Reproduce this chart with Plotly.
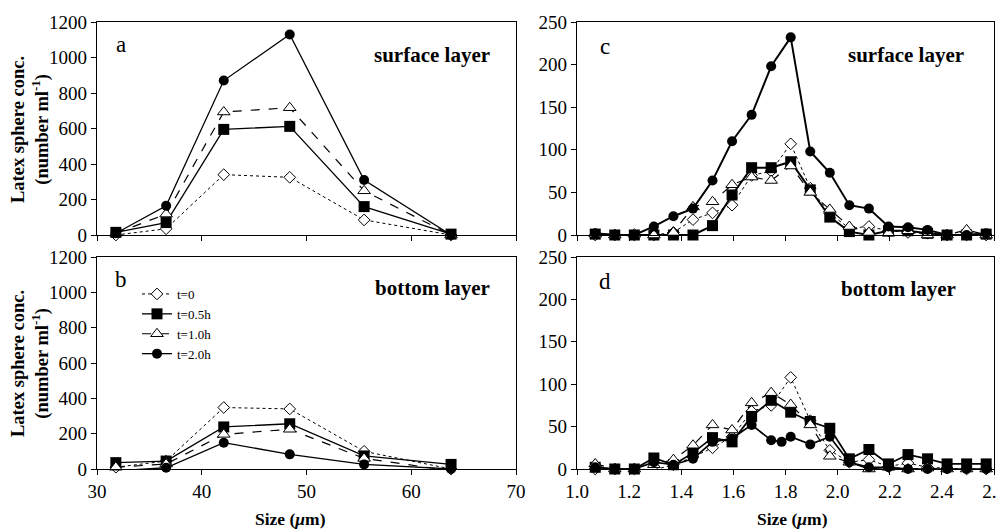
import plotly.graph_objects as go

# ---------------- data ----------------
series_names = ["t=0", "t=0.5h", "t=1.0h", "t=2.0h"]

size_large = [31.8, 36.6, 42.1, 48.4, 55.5, 63.8]
a_t0 = [0, 35, 340, 325, 85, 0]
a_t05 = [15, 70, 595, 612, 160, 5]
a_t10 = [10, 118, 693, 717, 249, 0]
a_t20 = [10, 165, 870, 1130, 310, 0]

b_t0 = [10, 45, 348, 340, 100, 0]
b_t05 = [36, 45, 238, 256, 74, 26]
b_t10 = [10, 28, 196, 225, 60, -10]
b_t20 = [-10, 7, 149, 83, 26, 0]

size_small = [1.07, 1.145, 1.22, 1.295, 1.37, 1.445, 1.52, 1.595, 1.67, 1.745, 1.82,
              1.895, 1.97, 2.045, 2.12, 2.195, 2.27, 2.345, 2.42, 2.495, 2.57]
c_t0 = [0, 0, 0, 0, 3, 18, 26, 35, 70, 75, 107, 55, 25, 8, 10, 5, 3, 2, 0, 0, 0]
c_t05 = [1, 0, 0, 0, 0, 0, 11, 47, 79, 79, 86, 53, 21, 4, 0, 5, 5, 2, 0, 0, 1]
c_t10 = [1, 0, 1, 0, 3, 33, 39, 59, 68, 64, 81, 50, 30, 10, 3, 2, 5, 0, 0, 6, 0]
c_t20 = [2, 0, 0, 10, 22, 31, 64, 110, 141, 198, 232, 98, 73, 35, 31, 10, 9, 6, 0, 0, 2]

d_t0 = [0, 0, 0, -1, 5, 14, 25, 38, 68, 75, 108, 57, 22, 8, 11, 3, 7, 2, 1, 0, 0]
d_t05 = [2, 0, 0, 13, 5, 19, 37, 32, 62, 81, 67, 56, 48, 12, 23, 6, 17, 12, 6, 6, 6]
d_t10 = [6, 0, 0, 5, 11, 28, 52, 46, 78, 90, 76, 52, 15, 8, 0, 2, 0, 1, 0, 0, 0]
size_small_d20 = [1.07, 1.145, 1.22, 1.295, 1.37, 1.445, 1.52, 1.595, 1.67, 1.745, 1.785, 1.82,
                  1.895, 1.97, 2.045, 2.12, 2.195, 2.27, 2.345, 2.42, 2.495, 2.57]
d_t20 = [2, 0, 0, 8, 5, 12, 32, 36, 52, 34, 32, 38, 29, 38, 8, 2, 2, 0, 0, 0, 0, 0]

x_ticks_large = [30, 40, 50, 60, 70]
y_ticks_large = [0, 200, 400, 600, 800, 1000, 1200]
x_ticks_small = [1.0, 1.2, 1.4, 1.6, 1.8, 2.0, 2.2, 2.4, 2.6]
y_ticks_small = [0, 50, 100, 150, 200, 250]

# ---------------- styles ----------------
FONT = "Liberation Serif, Times New Roman, serif"
styles = [
    dict(line=dict(color="black", width=1, dash="dot"),
         marker=dict(symbol="diamond", size=9, color="white", line=dict(color="black", width=1))),
    dict(line=dict(color="black", width=1.3),
         marker=dict(symbol="square", size=11, color="black", line=dict(color="black", width=0))),
    dict(line=dict(color="black", width=1.2, dash="dash"),
         marker=dict(symbol="triangle-up", size=11, color="white", line=dict(color="black", width=1))),
    dict(line=dict(color="black", width=1.3),
         marker=dict(symbol="circle", size=10, color="black", line=dict(color="black", width=0))),
]

fig = go.Figure()

panels = [
    ("x", "y", [size_large] * 4, [a_t0, a_t05, a_t10, a_t20], False, 1.0),
    ("x2", "y2", [size_large] * 4, [b_t0, b_t05, b_t10, b_t20], True, 1.0),
    ("x3", "y3", [size_small] * 4, [c_t0, c_t05, c_t10, c_t20], False, 1.5),
    ("x4", "y4", [size_small] * 3 + [size_small_d20], [d_t0, d_t05, d_t10, d_t20], False, 1.3),
]
for xa, ya, xs, ys, show, lw in panels:
    for i in range(4):
        st = styles[i]
        line = dict(st["line"])
        if i in (1, 3):
            line["width"] = line["width"] * lw
        fig.add_trace(go.Scatter(
            x=xs[i], y=ys[i], mode="lines+markers", name=series_names[i],
            xaxis=xa, yaxis=ya, line=line, marker=st["marker"],
            showlegend=show, cliponaxis=False))

OFF = 8
PW, PH = 1004, 529
W, H = PW - OFF, PH - OFF

def fx(p):
    return (p - OFF) / W

def fy(p):
    return 1 - (p - OFF) / H

lx = [fx(97), fx(516)]
rx = [fx(577), fx(994)]
ty = [fy(235), fy(22)]
by = [fy(469), fy(257)]

axis_common = dict(showline=True, linecolor="black", linewidth=1.2, mirror=True,
                   showgrid=False, zeroline=False, ticks="outside", ticklen=5,
                   tickcolor="black", automargin=False, ticklabeloverflow="allow",
                   tickfont=dict(family=FONT, size=19, color="black"))

fig.update_layout(
    width=W, height=H,
    margin=dict(l=0, r=0, t=0, b=0, pad=0, autoexpand=False),
    paper_bgcolor="white", plot_bgcolor="white",
    font=dict(family=FONT, color="black"),
    xaxis=dict(domain=lx, anchor="y", range=[30, 70], tickvals=x_ticks_large,
               showticklabels=False, **axis_common),
    yaxis=dict(domain=ty, anchor="x", range=[0, 1200], tickvals=y_ticks_large, **axis_common),
    xaxis2=dict(domain=lx, anchor="y2", range=[30, 70], tickvals=x_ticks_large, **axis_common),
    yaxis2=dict(domain=by, anchor="x2", range=[0, 1200], tickvals=y_ticks_large, **axis_common),
    xaxis3=dict(domain=rx, anchor="y3", range=[1.0, 2.6], tickvals=x_ticks_small,
                showticklabels=False, **axis_common),
    yaxis3=dict(domain=ty, anchor="x3", range=[0, 250], tickvals=y_ticks_small, **axis_common),
    xaxis4=dict(domain=rx, anchor="y4", range=[1.0, 2.6], tickvals=x_ticks_small,
                tickformat=".1f", **axis_common),
    yaxis4=dict(domain=by, anchor="x4", range=[0, 250], tickvals=y_ticks_small, **axis_common),
    legend=dict(x=fx(137), y=fy(279), xanchor="left", yanchor="top",
                font=dict(family=FONT, size=13, color="black"),
                bgcolor="rgba(0,0,0,0)", tracegroupgap=0, itemwidth=30),
    showlegend=True,
)

ann = []
def add_text(text, x, y, size, bold=False, xanchor="center", angle=0):
    ann.append(dict(text=("<b>%s</b>" % text) if bold else text, x=fx(x), y=fy(y),
                    xref="paper", yref="paper", showarrow=False, xanchor=xanchor,
                    yanchor="middle", textangle=angle,
                    font=dict(family=FONT, size=size, color="black")))

add_text("a", 121, 44, 23)
add_text("b", 121, 279, 23)
add_text("c", 605, 47, 23)
add_text("d", 605, 281, 23)
add_text("surface layer", 492, 55, 21, bold=True, xanchor="right")
add_text("bottom layer", 492, 288, 21, bold=True, xanchor="right")
add_text("surface layer", 966, 55, 21, bold=True, xanchor="right")
add_text("bottom layer", 958, 289, 21, bold=True, xanchor="right")
ytitle = "Latex sphere conc.<br>(number ml<sup>-1</sup>)"
add_text(ytitle, 30, 130, 18.5, bold=True, angle=-90)
add_text(ytitle, 30, 364, 18.5, bold=True, angle=-90)
add_text("Size (<i>μ</i>m)", 290, 519, 17.5, bold=True)
add_text("Size (<i>μ</i>m)", 792, 519, 17.5, bold=True)
fig.update_layout(annotations=ann)

fig.write_html("out.html")
